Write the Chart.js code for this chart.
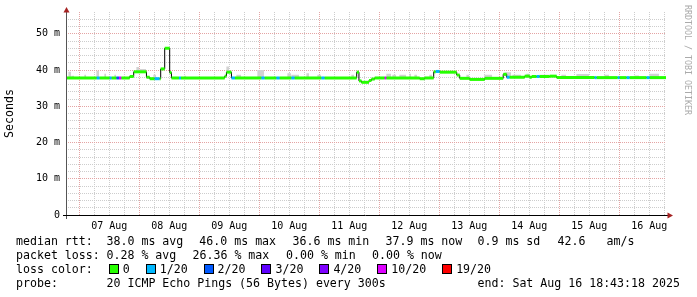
<!DOCTYPE html>
<html><head><meta charset="utf-8">
<script src="https://cdn.jsdelivr.net/npm/chart.js@4"></script>
<style>
html,body{margin:0;padding:0;background:#fff;}
#wrap{position:relative;width:697px;height:297px;overflow:hidden;background:#fff;}
#c{position:absolute;left:0;top:0;}
.lt{position:absolute;font-family:'DejaVu Sans Mono',monospace;font-size:11.6px;line-height:14px;white-space:pre;color:#000;}
.box{display:inline-block;width:8px;height:8px;border:1px solid #000;margin:0 4px 0 2px;vertical-align:-1px;}
#wm{position:absolute;left:683px;top:5px;writing-mode:vertical-rl;font-family:'DejaVu Sans Mono',monospace;font-size:8.3px;color:#aaa;white-space:pre;}
</style></head><body>
<div id="wrap"><canvas id="c" width="697" height="297"></canvas>
<div id="legend"></div><div id="wm">RRDTOOL / TOBI OETIKER</div></div>
<script>
// Time axis in hours relative to 07 Aug 00:00
const windowStartH = -5.28;
const windowEndH = 234.72;
const dayLabels = ['07 Aug','08 Aug','09 Aug','10 Aug','11 Aug','12 Aug','13 Aug','14 Aug','15 Aug','16 Aug'];
const yTickLabels = ['0','10 m','20 m','30 m','40 m','50 m'];

// Median RTT runs (start hour, value in ms, lost pings of 20)
const medianStartH = [-5.28, 7.0, 8.2, 12.2, 13.0, 14.9, 15.9, 16.9, 20.2, 21.8,
  26.9, 28.2, 30.2, 32.2, 32.6, 34.2, 36.2, 36.9, 39.9, 40.7,
  58.2, 58.9, 60.9, 62.3, 72.9, 74.2, 78.9, 80.2, 84.9, 86.2,
  96.9, 98.2, 111.0, 111.9, 112.9, 115.9, 116.9, 118.2, 122.2, 122.9,
  136.2, 138.2, 141.8, 142.6, 144.2, 151.0, 152.2, 156.2, 162.2, 169.6,
  171.0, 172.2, 178.2, 180.2, 181.0, 183.0, 184.2, 188.2, 191.0, 206.2,
  207.0, 215.4, 216.2, 219.0, 220.2, 227.0, 228.2];
const medianMs = [37.8, 37.8, 37.8, 37.8, 37.8, 37.8, 37.8, 37.8, 38.2, 39.5,
  38.0, 37.6, 37.6, 37.6, 40.3, 46.0, 39.3, 37.8, 37.8, 37.8,
  38.3, 39.4, 37.8, 37.8, 37.8, 37.8, 37.8, 37.8, 37.8, 37.8,
  37.8, 37.8, 39.4, 37.0, 36.6, 37.1, 37.5, 37.8, 37.8, 37.8,
  37.6, 37.8, 39.5, 39.6, 39.4, 38.6, 37.7, 37.4, 37.7, 38.8,
  38.0, 38.0, 38.3, 38.0, 38.2, 38.2, 38.2, 38.3, 37.9, 37.9,
  37.9, 37.9, 37.9, 37.9, 37.9, 37.9, 37.9];
const lossCount = [0, 1, 0, 1, 0, 2, 10, 0, 0, 0,
  0, 0, 1, 0, 0, 0, 0, 0, 1, 0,
  0, 0, 1, 0, 1, 0, 1, 0, 1, 0,
  1, 0, 0, 0, 0, 0, 0, 0, 10, 0,
  0, 0, 0, 1, 0, 0, 0, 0, 0, 0,
  1, 0, 0, 0, 0, 1, 0, 0, 0, 1,
  0, 1, 0, 1, 0, 1, 0];

// Smoke (ping spread) runs
const smokeStartH = [-4.4, -3.2, 2.0, 6.8, 10.0, 14.0, 22.8, 24.0, 29.6, 42.0,
  58.8, 62.8, 71.2, 83.2, 84.8, 90.8, 95.2, 108.8, 122.8, 125.2,
  128.0, 132.0, 134.0, 140.0, 154.8, 162.0, 170.0, 173.2, 178.8, 184.0,
  192.8, 198.8, 210.0, 222.0, 228.0];
const smokeEndH = [-3.2, -2.0, 2.8, 8.0, 10.8, 14.8, 24.0, 26.8, 30.8, 42.8,
  60.0, 64.8, 74.0, 84.8, 88.0, 92.0, 96.8, 110.0, 124.8, 126.8,
  130.8, 132.8, 135.2, 141.2, 156.0, 165.2, 172.8, 176.8, 180.0, 188.0,
  194.8, 204.0, 212.0, 224.0, 232.0];
const smokeHighMs = [39.5, 38.4, 38.7, 39.8, 39.0, 38.7, 40.8, 40.3, 38.7, 38.4,
  41.0, 38.7, 40.0, 39.1, 38.7, 39.1, 38.7, 38.7, 39.0, 38.7,
  38.7, 39.0, 38.7, 38.7, 38.7, 38.7, 39.4, 38.7, 39.0, 38.7,
  38.7, 38.9, 38.7, 38.5, 39.0];
const smokeLowMs = [37.8, 37.8, 37.8, 37.8, 37.8, 37.8, 39.6, 39.6, 37.8, 37.8,
  39.6, 37.8, 37.8, 37.8, 37.8, 37.8, 37.8, 37.8, 37.8, 37.8,
  37.8, 37.8, 37.8, 37.8, 37.8, 37.8, 38.3, 37.8, 37.8, 37.8,
  37.8, 37.8, 37.8, 37.8, 37.8];

// Loss colour legend
const lossLevels = [0, 1, 2, 3, 4, 10, 19];
const lossLabels = ['0', '1/20', '2/20', '3/20', '4/20', '10/20', '19/20'];
const lossColors = ['#26ff00', '#00b8ff', '#0059ff', '#5e00ff', '#7e00ff', '#dd00ff', '#ff0000'];

// Legend text items (rrdtool justifies them across the line)
const rttItems = ['median rtt:', '38.0 ms avg', '46.0 ms max', '36.6 ms min', '37.9 ms now', '0.9 ms sd', '42.6', 'am/s'];
const lossItems = ['packet loss:', '0.28 % avg', '26.36 % max', '0.00 % min', '0.00 % now'];
const probeItems = ['probe:', '20 ICMP Echo Pings (56 Bytes) every 300s', 'end: Sat Aug 16 18:43:18 2025'];
const lossColorTitle = 'loss color:';

// layout (pixel positions of the legend items)
const rttX = [16, 106.5, 199.3, 292.5, 385.5, 477.5, 557.6, 606.5];
const lossX = [16, 106.5, 192.5, 286, 372];
const probeX = [16, 106.5, 477.5];
const rowTop = [234, 248, 262, 276];

function lossColor(n) {
  let c = lossColors[0];
  for (let i = 0; i < lossLevels.length; i++) if (n >= lossLevels[i]) c = lossColors[i];
  return c;
}

// Build datasets
const medianLine = medianStartH.map((h, i) => ({x: h, y: medianMs[i]}));
medianLine.push({x: windowEndH, y: medianMs[medianMs.length - 1]});

const bandData = [];
medianStartH.forEach((h, i) => {
  const end = i + 1 < medianStartH.length ? medianStartH[i + 1] : windowEndH;
  bandData.push({x: h, y: medianMs[i], l: lossCount[i]});
  bandData.push({x: end, y: medianMs[i], l: lossCount[i]});
  bandData.push({x: end, y: null, l: 0});
});

const smokeHi = [], smokeLo = [];
smokeStartH.forEach((h, i) => {
  smokeHi.push({x: h, y: smokeHighMs[i]}, {x: smokeEndH[i], y: smokeHighMs[i]}, {x: smokeEndH[i], y: null});
  smokeLo.push({x: h, y: smokeLowMs[i]}, {x: smokeEndH[i], y: smokeLowMs[i]}, {x: smokeEndH[i], y: null});
});

const xTickHours = [];
for (let h = 0; h <= windowEndH; h += 6) xTickHours.push(h);

const MINOR = '#cdcdcd', MAJOR = '#e4a4a4';

const axisPlugin = {
  id: 'rrdAxes',
  afterDatasetsDraw(chart) {
    const {ctx, chartArea: a} = chart;
    ctx.save();
    ctx.lineWidth = 1;
    ctx.strokeStyle = '#555';
    ctx.beginPath();
    ctx.moveTo(a.left + 0.5, a.bottom + 4);
    ctx.lineTo(a.left + 0.5, a.top - 1);
    ctx.stroke();
    ctx.strokeStyle = '#000';
    ctx.beginPath();
    ctx.moveTo(a.left - 3, a.bottom + 0.5);
    ctx.lineTo(a.right + 2, a.bottom + 0.5);
    ctx.stroke();
    ctx.fillStyle = '#a52222';
    ctx.beginPath();
    ctx.moveTo(a.left + 0.5, a.top - 5);
    ctx.lineTo(a.left - 2.5, a.top + 0.5);
    ctx.lineTo(a.left + 3.5, a.top + 0.5);
    ctx.closePath();
    ctx.fill();
    ctx.beginPath();
    ctx.moveTo(a.right + 7, a.bottom + 0.5);
    ctx.lineTo(a.right + 1.5, a.bottom - 2.5);
    ctx.lineTo(a.right + 1.5, a.bottom + 3.5);
    ctx.closePath();
    ctx.fill();
    ctx.restore();
  }
};

new Chart(document.getElementById('c'), {
  type: 'line',
  data: {
    datasets: [
      {
        data: bandData, order: 0, borderWidth: 3, borderColor: lossColors[0],
        spanGaps: false, pointRadius: 0, fill: false,
        segment: {borderColor: c => lossColor(bandData[c.p0DataIndex].l)}
      },
      {
        data: medianLine, order: 1, borderWidth: 1, borderColor: '#000',
        stepped: true, pointRadius: 0, fill: false
      },
      {
        data: smokeHi, order: 2, borderWidth: 0, borderColor: 'rgba(0,0,0,0)',
        backgroundColor: '#d2d2d2', pointRadius: 0, spanGaps: false, fill: 3
      },
      {
        data: smokeLo, order: 3, borderWidth: 0, borderColor: 'rgba(0,0,0,0)',
        pointRadius: 0, spanGaps: false, fill: false
      }
    ]
  },
  options: {
    responsive: false, animation: false, events: [],
    layout: {padding: {left: 0, right: 31, top: 12, bottom: 0}},
    plugins: {legend: {display: false}, tooltip: {enabled: false}},
    scales: {
      x: {
        type: 'linear', min: windowStartH, max: windowEndH,
        afterBuildTicks: s => { s.ticks = xTickHours.map(v => ({value: v})); },
        afterFit: s => { s.height = 82; },
        ticks: {
          autoSkip: false, maxRotation: 0, minRotation: 0, padding: 5, color: '#000',
          font: {family: 'DejaVu Sans Mono', size: 10},
          callback: v => (v % 24 === 12 ? dayLabels[(v - 12) / 24] : '')
        },
        grid: {drawTicks: false, lineWidth: 1, color: c => (c.tick && c.tick.value % 24 === 0 ? MAJOR : MINOR)},
        border: {display: false, dash: [1, 1]}
      },
      y: {
        min: 0, max: 56,
        afterFit: s => { s.width = 66; },
        ticks: {
          stepSize: 2, padding: 6, color: '#000', autoSkip: false,
          font: {family: 'DejaVu Sans Mono', size: 10},
          callback: v => (v % 10 === 0 ? yTickLabels[v / 10] : '')
        },
        title: {
          display: true, text: 'Seconds', color: '#000',
          font: {family: 'DejaVu Sans Mono', size: 11.6},
          padding: {top: 3, bottom: 0}
        },
        grid: {
          drawTicks: false, lineWidth: 1,
          color: c => {
            const v = c.tick ? c.tick.value : -1;
            if (v === 0 || v === 56) return 'rgba(0,0,0,0)';
            return v % 10 === 0 ? MAJOR : MINOR;
          }
        },
        border: {display: false, dash: [1, 1]}
      }
    }
  },
  plugins: [axisPlugin]
});

// HTML legend
const lg = document.getElementById('legend');
function addText(text, x, y) {
  const d = document.createElement('div');
  d.className = 'lt';
  d.style.left = x + 'px';
  d.style.top = y + 'px';
  d.textContent = text;
  lg.appendChild(d);
  return d;
}
rttItems.forEach((t, i) => addText(t, rttX[i], rowTop[0]));
lossItems.forEach((t, i) => addText(t, lossX[i], rowTop[1]));
const row3 = addText('', 16, rowTop[2]);
let html = lossColorTitle + '  ';
lossLabels.forEach((lab, i) => {
  html += '<span class="box" style="background:' + lossColors[i] + '"></span>' + lab + (i < lossLabels.length - 1 ? '  ' : '');
});
row3.innerHTML = html;
probeItems.forEach((t, i) => addText(t, probeX[i], rowTop[3]));
</script>
</body></html>
